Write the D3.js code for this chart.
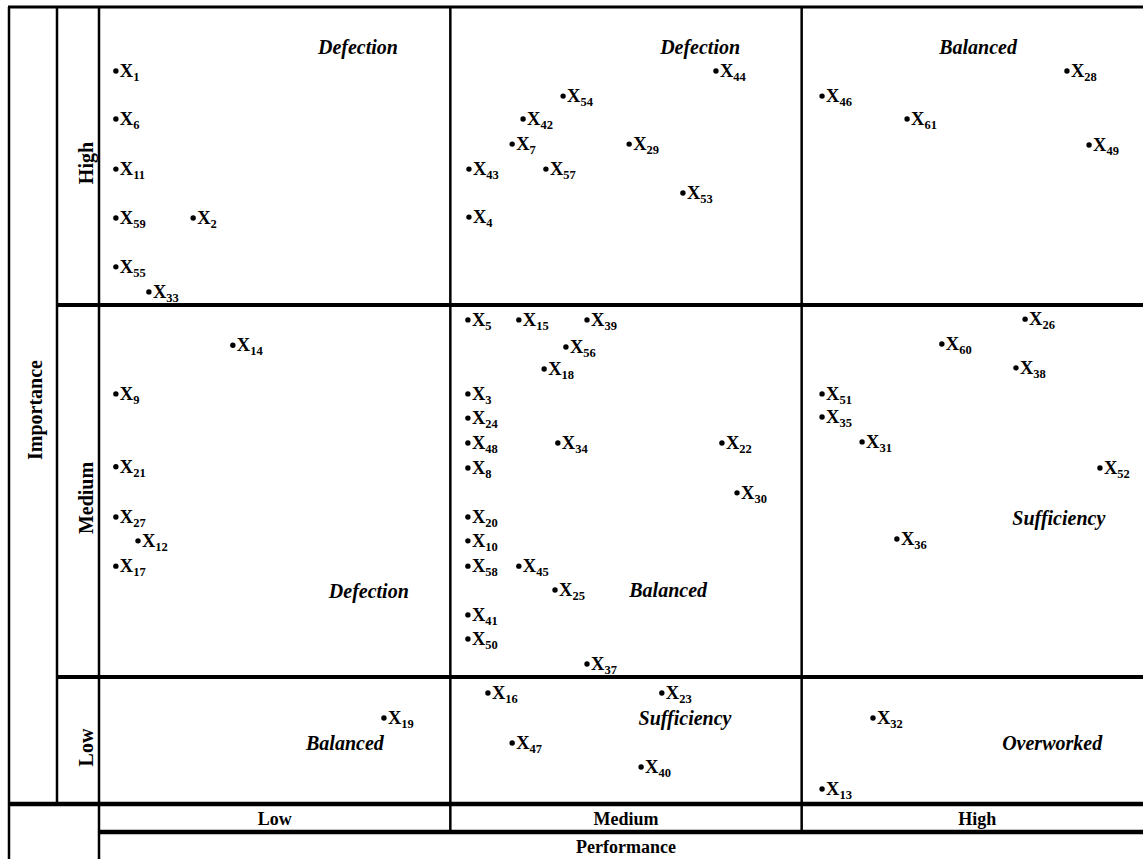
<!DOCTYPE html>
<html>
<head>
<meta charset="utf-8">
<script src="https://cdn.jsdelivr.net/npm/d3@7"></script>
<style>
  html, body { margin: 0; padding: 0; background: #fff; }
  svg { display: block; }
  text { font-family: "Liberation Serif", "Times New Roman", serif; font-weight: bold; fill: #000; }
</style>
</head>
<body>
<svg id="chart" width="1143" height="859"></svg>
<script>
// ---- data ----
const perfLevels = ["Low", "Medium", "High"];      // performance categories (x)
const impLevels = ["Low", "Medium", "High"];       // importance categories (y, bottom to top)
const itemIds = [1, 6, 11, 59, 2, 55, 33, 44, 54, 42, 7, 29, 43, 57, 53, 4, 28, 46, 61, 49,
  14, 9, 21, 27, 12, 17, 5, 15, 39, 56, 18, 3, 24, 48, 34, 22, 8, 30, 20, 10, 58, 45, 25, 41, 50, 37,
  26, 60, 38, 51, 35, 31, 52, 36,
  16, 23, 19, 32, 47, 40, 13];
// performance score: 0-1 Low, 1-2 Medium, 2-3 High
const performance = [0.048, 0.048, 0.048, 0.048, 0.268, 0.048, 0.142, 1.756, 1.321, 1.207, 1.176, 1.509, 1.053, 1.272, 1.662, 1.053, 2.755, 2.058, 2.300, 2.818,
  0.381, 0.048, 0.048, 0.048, 0.111, 0.048, 1.050, 1.195, 1.389, 1.329, 1.267, 1.050, 1.050, 1.050, 1.306, 1.773, 1.050, 1.816, 1.050, 1.050, 1.050, 1.195, 1.298, 1.050, 1.050, 1.389,
  2.636, 2.399, 2.610, 2.058, 2.058, 2.172, 2.849, 2.271,
  1.107, 1.602, 0.811, 2.203, 1.176, 1.543, 2.058];
// importance score: 0-1 Low, 1-2 Medium, 2-3 High
const importance = [2.785, 2.624, 2.456, 2.292, 2.292, 2.128, 2.044, 2.785, 2.701, 2.624, 2.540, 2.540, 2.456, 2.456, 2.376, 2.295, 2.785, 2.701, 2.624, 2.537,
  1.892, 1.761, 1.565, 1.430, 1.366, 1.298, 1.960, 1.960, 1.960, 1.887, 1.828, 1.761, 1.696, 1.629, 1.629, 1.629, 1.562, 1.495, 1.430, 1.366, 1.298, 1.298, 1.234, 1.167, 1.102, 1.035,
  1.962, 1.895, 1.831, 1.761, 1.699, 1.632, 1.562, 1.371,
  0.874, 0.874, 0.677, 0.677, 0.480, 0.291, 0.118];
// zone annotations
const zoneNames = ["Defection", "Defection", "Balanced", "Defection", "Balanced", "Sufficiency", "Balanced", "Sufficiency", "Overworked"];
const zonePerf = [0.737, 1.711, 2.502, 0.768, 1.620, 2.732, 0.700, 1.668, 2.713];
const zoneImp = [2.866, 2.866, 2.866, 1.231, 1.234, 1.427, 0.480, 0.677, 0.480];
const xTitle = "Performance";
const yTitle = "Importance";

// ---- scales ----
const svg = d3.select("#chart");
svg.append("rect").attr("width", 1143).attr("height", 859).attr("fill", "#fff");

const x = d3.scaleLinear().domain([0, 3]).range([99, 1153]);
const y = d3.scaleLinear().domain([0, 1, 2, 3]).range([804, 677, 305, 7]);

const outerLeft = 9, levelLeft = 57, labelRowBottom = 832, bottom = 859, right = 1143;

// ---- grid ----
const g = svg.append("g").attr("stroke", "#000").attr("fill", "none");
// top border
g.append("line").attr("x1", outerLeft - 1).attr("x2", right).attr("y1", y(3)).attr("y2", y(3)).attr("stroke-width", 3);
// verticals
g.append("line").attr("x1", outerLeft).attr("x2", outerLeft).attr("y1", y(3)).attr("y2", bottom).attr("stroke-width", 2.5);
g.append("line").attr("x1", levelLeft).attr("x2", levelLeft).attr("y1", y(3)).attr("y2", y(0)).attr("stroke-width", 2.5);
g.append("line").attr("x1", x(0)).attr("x2", x(0)).attr("y1", y(3)).attr("y2", bottom).attr("stroke-width", 2.5);
[1, 2].forEach(v => {
  g.append("line").attr("x1", x(v)).attr("x2", x(v)).attr("y1", y(3)).attr("y2", labelRowBottom).attr("stroke-width", 2.5);
});
// thick horizontals between importance levels
[1, 2].forEach(v => {
  g.append("line").attr("x1", levelLeft - 1).attr("x2", right).attr("y1", y(v)).attr("y2", y(v)).attr("stroke-width", 4);
});
g.append("line").attr("x1", outerLeft - 1).attr("x2", right).attr("y1", y(0)).attr("y2", y(0)).attr("stroke-width", 4.5);
g.append("line").attr("x1", x(0) - 1).attr("x2", right).attr("y1", labelRowBottom).attr("y2", labelRowBottom).attr("stroke-width", 4.5);

// ---- axis labels ----
perfLevels.forEach((lv, i) => {
  svg.append("text").attr("x", x(i + 0.5)).attr("y", (y(0) + labelRowBottom) / 2 + 7)
    .attr("text-anchor", "middle").attr("font-size", 18).text(lv);
});
svg.append("text").attr("x", x(1.5)).attr("y", (labelRowBottom + bottom) / 2 + 7)
  .attr("text-anchor", "middle").attr("font-size", 18).text(xTitle);

impLevels.forEach((lv, i) => {
  const cy = (y(i) + y(i + 1)) / 2 + 7;
  svg.append("text").attr("transform", `translate(${93},${cy}) rotate(-90)`)
    .attr("text-anchor", "middle").attr("font-size", 20).text(lv);
});
svg.append("text").attr("transform", `translate(${42},${410}) rotate(-90)`)
  .attr("text-anchor", "middle").attr("font-size", 20).text(yTitle);

// ---- zone labels ----
svg.append("g").selectAll("text").data(zoneNames).join("text")
  .attr("x", (d, i) => x(zonePerf[i]))
  .attr("y", (d, i) => y(zoneImp[i]) + 7)
  .attr("text-anchor", "middle")
  .attr("font-size", 20)
  .attr("font-style", "italic")
  .text(d => d);

// ---- points ----
const pts = svg.append("g").selectAll("g").data(itemIds).join("g")
  .attr("transform", (d, i) => `translate(${x(performance[i])},${y(importance[i])})`);
pts.append("circle").attr("r", 2.7).attr("fill", "#000");
const t = pts.append("text").attr("x", 4).attr("y", 6).attr("font-size", 18.5);
t.append("tspan").text("X");
t.append("tspan").attr("dy", 4).attr("font-size", 12.5).text(d => d);
</script>
</body>
</html>
